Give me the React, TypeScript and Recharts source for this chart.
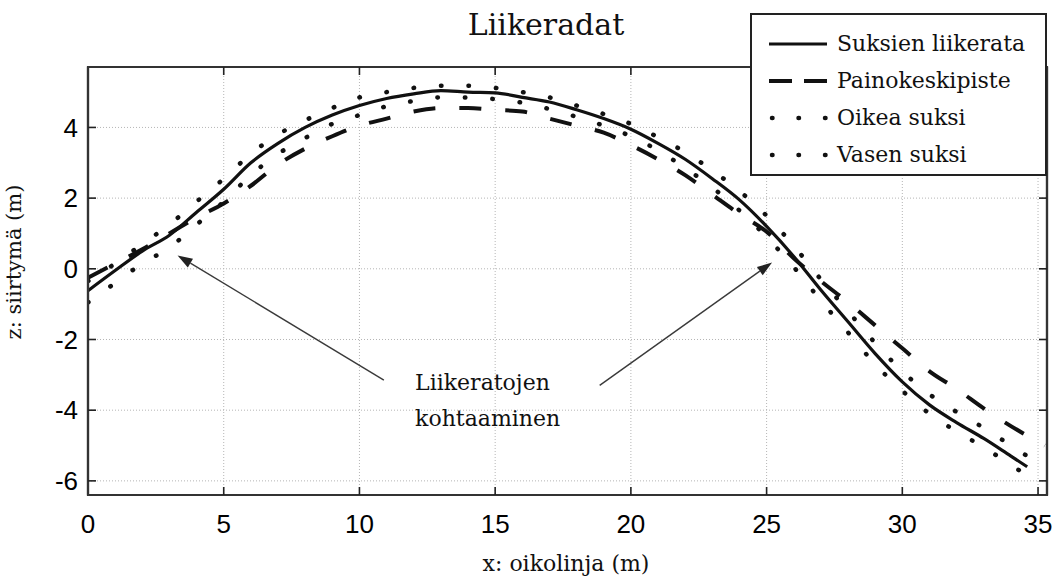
import React from 'react';
import {
  LineChart,
  Line,
  XAxis,
  YAxis,
  CartesianGrid,
  Legend,
  ReferenceLine,
  ReferenceDot,
  ReferenceArea,
} from 'recharts';

// ---------- data ----------
const xTicks = [0, 5, 10, 15, 20, 25, 30, 35];
const yTicks = [-6, -4, -2, 0, 2, 4];

const suksienX = [0, 1, 2, 3, 4, 5, 6, 7, 8, 9, 10, 11, 12, 13, 14, 15, 16, 17, 18, 19, 20, 21, 22, 23, 24, 25, 26, 27, 28, 29, 30, 31, 32, 33, 34, 34.6];
const suksienZ = [-0.62, -0.05, 0.5, 0.95, 1.6, 2.25, 3.0, 3.55, 4.0, 4.35, 4.62, 4.82, 4.95, 5.04, 5.0, 4.98, 4.85, 4.72, 4.5, 4.25, 3.95, 3.55, 3.1, 2.55, 1.95, 1.2, 0.35, -0.6, -1.5, -2.4, -3.2, -3.85, -4.35, -4.8, -5.3, -5.6];

const painoX = [0, 1, 2, 3, 4, 5, 6, 7, 8, 9, 10, 11, 12, 13, 14, 15, 16, 17, 18, 19, 20, 21, 22, 23, 24, 25, 26, 27, 28, 29, 30, 31, 32, 33, 34, 35.25];
const painoZ = [-0.25, 0.15, 0.55, 1.0, 1.45, 1.85, 2.35, 2.95, 3.4, 3.75, 4.05, 4.25, 4.45, 4.55, 4.55, 4.5, 4.45, 4.25, 4.05, 3.85, 3.5, 3.1, 2.65, 2.1, 1.55, 1.05, 0.3, -0.35, -0.95, -1.6, -2.25, -2.9, -3.4, -3.95, -4.45, -5.0];

const oikeaX = [0, 1, 2, 3, 4, 5, 6, 7, 8, 9, 10, 11, 12, 13, 14, 15, 16, 17, 18, 19, 20, 21, 22, 23, 24, 25, 26, 27, 28, 29, 30, 31, 32, 33, 34, 34.6];
const oikeaZ = [-0.35, 0.15, 0.7, 1.25, 1.9, 2.55, 3.25, 3.8, 4.2, 4.55, 4.85, 5.0, 5.12, 5.18, 5.18, 5.12, 5.0, 4.85, 4.62, 4.38, 4.1, 3.72, 3.3, 2.78, 2.2, 1.5, 0.65, -0.3, -1.2, -2.1, -2.9, -3.55, -4.05, -4.5, -5.0, -5.3];

const vasenX = [0, 1, 2, 3, 4, 5, 6, 7, 8, 9, 10, 11, 12, 13, 14, 15, 16, 17, 18, 19, 20, 21, 22, 23, 24, 25, 26, 27, 28, 29, 30, 31, 32, 33, 34, 34.4];
const vasenZ = [-0.95, -0.4, 0.15, 0.6, 1.25, 1.9, 2.65, 3.25, 3.7, 4.1, 4.35, 4.6, 4.75, 4.85, 4.85, 4.8, 4.7, 4.52, 4.3, 4.05, 3.75, 3.35, 2.85, 2.3, 1.65, 0.9, 0.05, -0.9, -1.8, -2.7, -3.45, -4.1, -4.6, -5.05, -5.55, -5.75];

const seriesNames = ['Suksien liikerata', 'Painokeskipiste', 'Oikea suksi', 'Vasen suksi'];

// annotation anchors (data coordinates)
const arrowLeft = [{ x: 10.9, y: -3.15 }, { x: 3.3, y: 0.38 }];
const arrowRight = [{ x: 18.85, y: -3.3 }, { x: 25.2, y: 0.18 }];
const noteAnchor = { x: 12.05, y: -3.42 };
const noteLines = ['Liikeratojen', 'kohtaaminen'];

const X_DOMAIN: [number, number] = [0, 35.33];
const Y_DOMAIN: [number, number] = [-6.4, 5.71];

const toRows = (xs: number[], zs: number[]) => xs.map((x, i) => ({ x, z: zs[i] }));
const suksienData = toRows(suksienX, suksienZ);
const painoData = toRows(painoX, painoZ);
const oikeaData = toRows(oikeaX, oikeaZ);
const vasenData = toRows(vasenX, vasenZ);

// ---------- styles ----------
const INK = '#111';
const SERIF = '"DejaVu Serif", "Liberation Serif", serif';
const SANS = '"Liberation Sans", Arial, Helvetica, sans-serif';

const legendStyles: Record<string, { w: number; dash?: string; cap?: 'round' | 'butt' }> = {
  'Suksien liikerata': { w: 3.2 },
  Painokeskipiste: { w: 4, dash: '23 12' },
  'Oikea suksi': { w: 4.5, dash: '0.5 26', cap: 'round' },
  'Vasen suksi': { w: 4.5, dash: '0.5 26', cap: 'round' },
};

const EmptyTick = () => <g />;

const LegendBox = (props: any) => {
  const payload = props.payload || [];
  return (
    <div
      style={{
        width: 297,
        height: 163,
        boxSizing: 'border-box',
        border: '2px solid #222',
        background: '#fff',
        position: 'relative',
      }}
    >
      {payload.map((p: any, i: number) => {
        const st = legendStyles[p.value] || { w: 3 };
        return (
          <div
            key={p.value}
            style={{
              position: 'absolute',
              left: 15,
              top: 15 + i * 37,
              height: 28,
              display: 'flex',
              alignItems: 'center',
              whiteSpace: 'nowrap',
            }}
          >
            <svg width={62} height={12} style={{ display: 'block' }}>
              <line
                x1={st.cap === 'round' ? 5 : 2}
                y1={6}
                x2={60}
                y2={6}
                stroke={INK}
                strokeWidth={st.w}
                strokeDasharray={st.dash}
                strokeLinecap={st.cap || 'butt'}
              />
            </svg>
            <span style={{ marginLeft: 8, fontFamily: SERIF, fontSize: 22, color: INK, lineHeight: '28px' }}>
              {p.value}
            </span>
          </div>
        );
      })}
    </div>
  );
};

const ArrowShape = (p: any) => {
  const { x1, y1, x2, y2 } = p;
  if ([x1, y1, x2, y2].some((v) => typeof v !== 'number' || isNaN(v))) return null;
  const ang = Math.atan2(y2 - y1, x2 - x1);
  const L = 15;
  const H = 5;
  const bx = x2 - L * Math.cos(ang);
  const by = y2 - L * Math.sin(ang);
  const px = -Math.sin(ang) * H;
  const py = Math.cos(ang) * H;
  return (
    <g>
      <line x1={x1} y1={y1} x2={bx} y2={by} stroke="#3a3a3a" strokeWidth={1.4} />
      <polygon points={`${x2},${y2} ${bx + px},${by + py} ${bx - px},${by - py}`} fill="#222" />
    </g>
  );
};

const NoteShape = (p: any) => {
  const { cx, cy } = p;
  if (typeof cx !== 'number' || typeof cy !== 'number') return null;
  return (
    <text x={cx} y={cy} fontFamily={SERIF} fontSize={22} fill={INK}>
      {noteLines.map((t, i) => (
        <tspan key={t} x={cx} dy={i === 0 ? 0 : 36}>
          {t}
        </tspan>
      ))}
    </text>
  );
};

export default function App() {
  const W = 1063;
  const H = 578;
  return (
    <div style={{ position: 'absolute', left: 0, top: 0, width: W, height: H, background: '#fff' }}>
      <LineChart width={W} height={H} margin={{ top: 62, right: 11, bottom: 0, left: 0 }}>
        <CartesianGrid stroke="#b5b5b5" strokeDasharray="1 2" strokeWidth={1} />
        <ReferenceArea
          x1={X_DOMAIN[0]}
          x2={X_DOMAIN[1]}
          y1={Y_DOMAIN[0]}
          y2={Y_DOMAIN[1]}
          fill="none"
          fillOpacity={0}
          stroke="#333"
          strokeWidth={2.2}
          ifOverflow="visible"
        />
        <XAxis
          type="number"
          dataKey="x"
          domain={X_DOMAIN}
          ticks={xTicks}
          allowDataOverflow
          height={83}
          tickSize={-8}
          tickMargin={28}
          tickLine={{ stroke: '#222', strokeWidth: 1.6 }}
          axisLine={{ stroke: '#333', strokeWidth: 2.2 }}
          tick={{ fill: '#000', fontSize: 26, fontFamily: SANS }}
        />
        <XAxis
          xAxisId="top"
          orientation="top"
          type="number"
          dataKey="x"
          domain={X_DOMAIN}
          ticks={xTicks}
          allowDataOverflow
          height={5}
          tickSize={-8}
          tickMargin={0}
          tick={EmptyTick}
          tickLine={{ stroke: '#222', strokeWidth: 1.6 }}
          axisLine={{ stroke: '#333', strokeWidth: 2.2 }}
        />
        <YAxis
          type="number"
          domain={Y_DOMAIN}
          ticks={yTicks}
          allowDataOverflow
          width={88}
          tickSize={-8}
          tickMargin={18}
          tickLine={{ stroke: '#222', strokeWidth: 1.6 }}
          axisLine={{ stroke: '#333', strokeWidth: 2.2 }}
          tick={{ fill: '#000', fontSize: 26, fontFamily: SANS }}
        />
        <YAxis
          yAxisId="right"
          orientation="right"
          type="number"
          domain={Y_DOMAIN}
          ticks={yTicks}
          allowDataOverflow
          width={5}
          tickSize={-8}
          tickMargin={0}
          tick={EmptyTick}
          tickLine={{ stroke: '#222', strokeWidth: 1.6 }}
          axisLine={{ stroke: '#333', strokeWidth: 2.2 }}
        />

        <Line
          data={oikeaData}
          dataKey="z"
          name={seriesNames[2]}
          type="monotone"
          stroke={INK}
          strokeWidth={4.5}
          strokeDasharray="0.5 27"
          strokeLinecap="round"
          dot={false}
          activeDot={false}
          isAnimationActive={false}
          legendType="line"
        />
        <Line
          data={vasenData}
          dataKey="z"
          name={seriesNames[3]}
          type="monotone"
          stroke={INK}
          strokeWidth={4.5}
          strokeDasharray="0.5 27"
          strokeLinecap="round"
          dot={false}
          activeDot={false}
          isAnimationActive={false}
          legendType="line"
        />
        <Line
          data={painoData}
          dataKey="z"
          name={seriesNames[1]}
          type="monotone"
          stroke={INK}
          strokeWidth={4}
          strokeDasharray="22 24"
          dot={false}
          activeDot={false}
          isAnimationActive={false}
          legendType="line"
        />
        <Line
          data={suksienData}
          dataKey="z"
          name={seriesNames[0]}
          xAxisId="top"
          yAxisId="right"
          type="monotone"
          stroke={INK}
          strokeWidth={3.2}
          dot={false}
          activeDot={false}
          isAnimationActive={false}
          legendType="line"
        />

        <ReferenceLine segment={arrowLeft} shape={ArrowShape} ifOverflow="visible" />
        <ReferenceLine segment={arrowRight} shape={ArrowShape} ifOverflow="visible" />
        <ReferenceDot x={noteAnchor.x} y={noteAnchor.y} r={0} shape={NoteShape} ifOverflow="visible" />

        <Legend
          layout="horizontal"
          verticalAlign="middle"
          align="center"
          content={(p: any) => {
            const sorted = [...(p.payload || [])].sort(
              (a: any, b: any) => seriesNames.indexOf(a.value) - seriesNames.indexOf(b.value)
            );
            return <LegendBox payload={sorted} />;
          }}
          wrapperStyle={{ position: 'absolute', left: 750, top: 13, width: 297, height: 163, margin: 0 }}
        />
      </LineChart>

      <svg
        width={W}
        height={H}
        style={{ position: 'absolute', left: 0, top: 0, pointerEvents: 'none' }}
      >
        <text x={546} y={35} textAnchor="middle" fontFamily={SERIF} fontSize={30} fill={INK}>
          Liikeradat
        </text>
        <text
          x={21}
          y={262}
          textAnchor="middle"
          fontFamily={SERIF}
          fontSize={21}
          fill={INK}
          transform="rotate(-90, 21, 262)"
        >
          z: siirtymä (m)
        </text>
        <text x={566} y={571} textAnchor="middle" fontFamily={SERIF} fontSize={22} fill={INK}>
          x: oikolinja (m)
        </text>
      </svg>
    </div>
  );
}
